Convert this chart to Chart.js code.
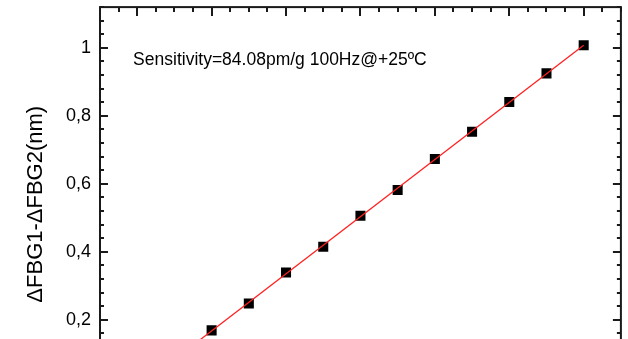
<!DOCTYPE html>
<html>
<head>
<meta charset="utf-8">
<script src="https://cdn.jsdelivr.net/npm/chart.js@4.4.1/dist/chart.umd.min.js"></script>
<style>
html, body { margin: 0; padding: 0; overflow: hidden; background: #fff; }
#wrap { position: relative; width: 628px; height: 460px; }
</style>
</head>
<body>
<div id="wrap"><canvas id="c" width="628" height="460"></canvas></div>
<script>
// ---- data ----
const accel = [2, 3, 4, 5, 6, 7, 8, 9, 10, 11, 12];               // g
const deltaWl = [0.169, 0.248, 0.339, 0.415, 0.506, 0.582, 0.673, 0.753, 0.841, 0.925, 1.008]; // nm
const fitX = [1, 12];
const fitY = [0.083, 1.008];
const yTickValues = [0, 0.2, 0.4, 0.6, 0.8, 1];
const yTickLabels = ['0', '0,2', '0,4', '0,6', '0,8', '1'];
const xTickValues = [0, 2, 4, 6, 8, 10, 12];
const yTitle = 'ΔFBG1-ΔFBG2(nm)';
const note = 'Sensitivity=84.08pm/g 100Hz@+25ºC';

const FONT = '"Liberation Sans", Arial, sans-serif';

const framePlugin = {
  id: 'frame',
  afterDatasetsDraw(chart) {
    const ctx = chart.ctx, a = chart.chartArea;
    const xs = chart.scales.x, ys = chart.scales.y;
    ctx.save();
    ctx.strokeStyle = '#1a1a1a';
    ctx.lineWidth = 2;
    const drawX = (v, len) => {
      const p = Math.round(xs.getPixelForValue(v));
      ctx.beginPath();
      ctx.moveTo(p, a.top); ctx.lineTo(p, a.top + len);
      ctx.moveTo(p, a.bottom); ctx.lineTo(p, a.bottom - len);
      ctx.stroke();
    };
    const drawY = (v, len) => {
      const p = Math.round(ys.getPixelForValue(v));
      ctx.beginPath();
      ctx.moveTo(a.left, p); ctx.lineTo(a.left + len, p);
      ctx.moveTo(a.right, p); ctx.lineTo(a.right - len, p);
      ctx.stroke();
    };
    for (let i = 0; i <= 28; i++) {
      const v = xs.min + i * 0.5;
      drawX(v, xTickValues.includes(v) ? 9 : 5);
    }
    for (let i = 0; i <= 29; i++) {
      const v = Math.round((ys.min + i * 0.04) * 100) / 100;
      drawY(v, yTickValues.some(t => Math.abs(t - v) < 1e-6) ? 8 : 4);
    }
    ctx.strokeRect(a.left, a.top, a.right - a.left, a.bottom - a.top);
    ctx.fillStyle = '#000';
    ctx.font = '17.5px ' + FONT;
    ctx.textBaseline = 'alphabetic';
    ctx.textAlign = 'left';
    ctx.fillText(note, xs.getPixelForValue(-0.11), ys.getPixelForValue(0.949));
    ctx.restore();
  }
};

function noPad(s) { s.paddingTop = 0; s.paddingBottom = 0; s.paddingLeft = 0; s.paddingRight = 0; }

new Chart(document.getElementById('c'), {
  type: 'scatter',
  data: {
    datasets: [
      {
        label: 'fit',
        data: fitX.map((x, i) => ({ x, y: fitY[i] })),
        showLine: true,
        borderColor: '#ff2020',
        borderWidth: 1.3,
        pointRadius: 0,
        fill: false
      },
      {
        label: 'data',
        data: accel.map((x, i) => ({ x, y: deltaWl[i] })),
        pointStyle: 'rect',
        pointRadius: 7.1,
        pointBorderWidth: 0,
        backgroundColor: '#000',
        borderColor: '#000'
      }
    ]
  },
  options: {
    responsive: false,
    animation: false,
    events: [],
    layout: { padding: { top: 6.5, right: 4.5, left: 0, bottom: 0 } },
    plugins: { legend: { display: false }, tooltip: { enabled: false } },
    scales: {
      x: {
        type: 'linear',
        min: -1, max: 13,
        grid: { display: false, drawTicks: false },
        border: { display: false },
        ticks: { display: false },
        afterFit(s) { s.height = 58.6; noPad(s); }
      },
      y: {
        type: 'linear',
        min: -0.04, max: 1.12,
        grid: { display: false, drawTicks: false },
        border: { display: false },
        afterBuildTicks(s) { s.ticks = yTickValues.map(v => ({ value: v })); },
        ticks: {
          padding: 9,
          color: '#000',
          font: { family: FONT, size: 18 },
          callback: (v) => yTickLabels[yTickValues.indexOf(v)] ?? ''
        },
        title: {
          display: true,
          text: yTitle,
          color: '#000',
          font: { family: FONT, size: 22 },
          padding: { top: 23, bottom: 0 }
        },
        afterFit(s) { s.width = 100; noPad(s); }
      }
    }
  },
  plugins: [framePlugin]
});
</script>
</body>
</html>
